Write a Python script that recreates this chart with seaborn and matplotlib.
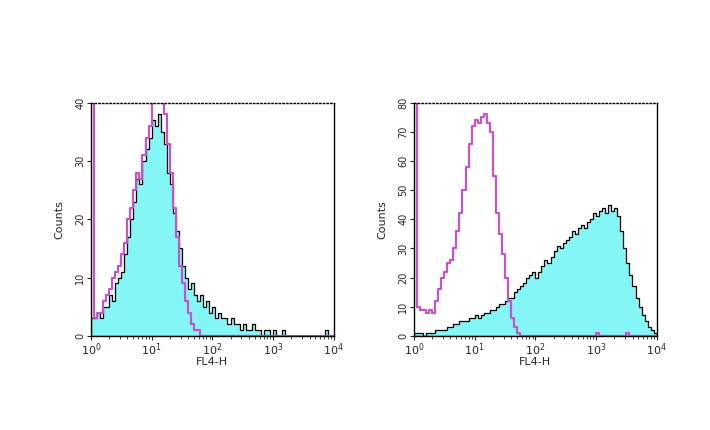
import numpy as np
import pandas as pd
import matplotlib
matplotlib.use("Agg")
import matplotlib.pyplot as plt
import seaborn as sns

# --- Dados (histogramas FL4-H, 80 canais de 0.05 década entre 10^0 e 10^4) ---
bin_edges_log = (0, 4)
n_bins = 80

left_stained = [3, 3, 4, 3, 5, 5, 7, 6, 9, 10,
                11, 14, 17, 20, 23, 27, 26, 30, 32, 34,
                37, 36, 38, 35, 33, 28, 26, 21, 18, 15,
                12, 10, 8, 9, 7, 6, 7, 5, 6, 4,
                5, 3, 4, 3, 3, 2, 3, 2, 2, 1,
                2, 1, 1, 2, 1, 1, 0, 1, 1, 0,
                1, 0, 0, 1, 0, 0, 0, 0, 0, 0,
                0, 0, 0, 0, 0, 0, 0, 1, 0, 0]
left_isotype = [60, 3, 4, 4, 6, 7, 8, 10, 11, 12,
                14, 16, 20, 22, 25, 28, 27, 31, 34, 36,
                40, 41, 42, 40, 38, 33, 28, 22, 17, 12,
                9, 6, 4, 2, 1, 1, 0, 0, 0, 0,
                0, 0, 0, 0, 0, 0, 0, 0, 0, 0,
                0, 0, 0, 0, 0, 0, 0, 0, 0, 0,
                0, 0, 0, 0, 0, 0, 0, 0, 0, 0,
                0, 0, 0, 0, 0, 0, 0, 0, 0, 0]
right_stained = [1, 1, 1, 0, 1, 1, 1, 2, 2, 2,
                 2, 3, 3, 4, 4, 5, 5, 5, 6, 6,
                 7, 6, 7, 8, 8, 9, 9, 10, 11, 11,
                 12, 13, 13, 15, 16, 17, 18, 20, 21, 22,
                 20, 22, 24, 26, 25, 27, 29, 31, 30, 32,
                 33, 34, 36, 35, 37, 38, 37, 39, 40, 42,
                 41, 43, 44, 42, 45, 43, 44, 41, 36, 30,
                 25, 21, 17, 13, 10, 7, 5, 3, 2, 1]
right_isotype = [150, 10, 9, 9, 8, 9, 8, 12, 16, 20,
                 22, 25, 26, 30, 36, 42, 50, 58, 66, 72,
                 74, 73, 75, 76, 73, 70, 55, 42, 35, 28,
                 20, 12, 6, 3, 1, 0, 0, 0, 0, 0,
                 0, 0, 0, 0, 0, 0, 0, 0, 0, 0,
                 0, 0, 0, 0, 0, 0, 0, 0, 0, 0,
                 1, 0, 0, 0, 0, 0, 0, 0, 0, 0,
                 1, 0, 0, 0, 0, 0, 0, 0, 0, 0]

x_ticks = [1, 10, 100, 1000, 10000]
x_ticklabels = ['$10^0$', '$10^1$', '$10^2$', '$10^3$', '$10^4$']
y_limits = [40, 80]
y_steps = [10, 10]

fill_color = '#84f6f6'
iso_color = '#c454c8'

sns.set_style('ticks')
plt.rcParams['font.family'] = ['DejaVu Sans']

centers = 10 ** (np.arange(n_bins) * 0.05 + 0.025)

fig = plt.figure(figsize=(7.1, 4.3), dpi=100)
axes_pos = [[0.128, 0.219, 0.342, 0.542], [0.583, 0.219, 0.342, 0.542]]
panels = [(left_stained, left_isotype), (right_stained, right_isotype)]

for k, (stained, isotype) in enumerate(panels):
    ax = fig.add_axes(axes_pos[k])
    df = pd.DataFrame({'FL4-H': centers, 'stained': stained, 'isotype': isotype})

    sns.histplot(data=df, x='FL4-H', weights='stained', bins=n_bins, binrange=bin_edges_log,
                 log_scale=True, element='step', fill=True, color=fill_color, alpha=1,
                 edgecolor='black', linewidth=0.9, ax=ax)
    sns.histplot(data=df, x='FL4-H', weights='isotype', bins=n_bins, binrange=bin_edges_log,
                 log_scale=True, element='step', fill=False, color=iso_color,
                 linewidth=1.6, ax=ax)

    ax.set_xlim(1, 10000)
    ax.set_ylim(0, y_limits[k])
    ax.set_xticks(x_ticks)
    ax.set_xticklabels(x_ticklabels, fontsize=8)
    ax.set_yticks(np.arange(0, y_limits[k] + 1, y_steps[k]))
    ax.set_yticklabels([str(v) for v in np.arange(0, y_limits[k] + 1, y_steps[k])],
                       fontsize=7, rotation=90, va='center')
    ax.tick_params(axis='both', direction='out', length=3, width=0.8, pad=1)
    ax.tick_params(axis='x', which='minor', length=2)
    ax.set_xlabel('FL4-H', fontsize=8, labelpad=-1)
    ax.set_ylabel('Counts', fontsize=8, labelpad=8)
    for side in ['top', 'right', 'left', 'bottom']:
        ax.spines[side].set_visible(True)
        ax.spines[side].set_linewidth(1.0)
        ax.spines[side].set_color('black')
    ax.spines['top'].set_linestyle(':')

fig.savefig('out.png', dpi=100)
